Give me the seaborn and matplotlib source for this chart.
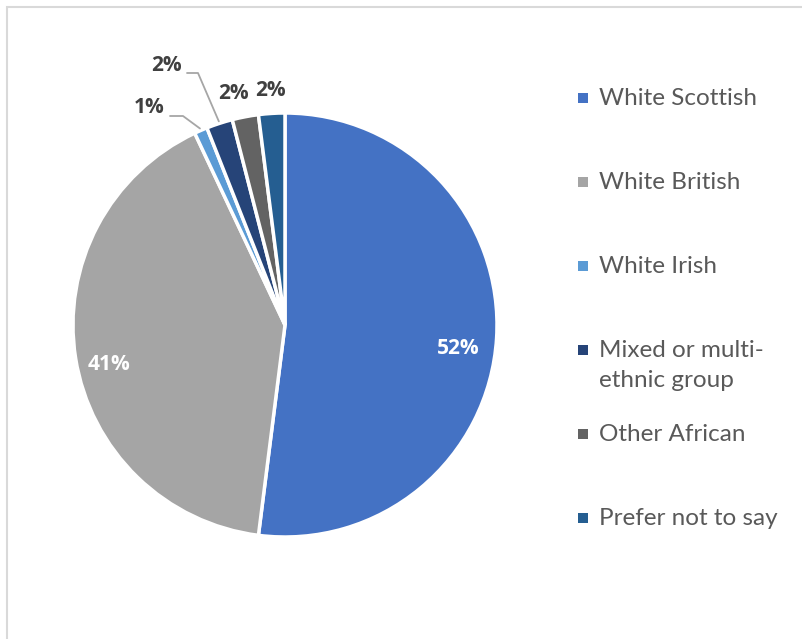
import matplotlib
matplotlib.use("Agg")
import matplotlib.pyplot as plt
import seaborn as sns
import numpy as np

sns.set_theme(style="white")
plt.rcParams["font.family"] = ["Lato", "DejaVu Sans"]

# Ethnicity breakdown (percent of respondents)
categories = ["White Scottish", "White British", "White Irish",
              "Mixed or multi-\nethnic group", "Other African", "Prefer not to say"]
shares = [52, 41, 1, 2, 2, 2]
colors = ["#4472C4", "#A5A5A5", "#5B9BD5", "#264478", "#636363", "#255E91"]

W, H = 803, 639
fig = plt.figure(figsize=(W / 100, H / 100), dpi=100)
fig.patch.set_facecolor("white")

# Chart-area border (top and left edges visible)
fig.add_artist(plt.Rectangle((7 / W, -0.1), 1.2, (H - 7) / H + 0.1, transform=fig.transFigure,
                             fill=False, edgecolor="#D9D9D9", linewidth=1.5))

cx, cy, r = 285, H - 325, 212
ax = fig.add_axes([(cx - r) / W, (cy - r) / H, 2 * r / W, 2 * r / H])
wedges, _ = ax.pie(shares, colors=colors, startangle=90, counterclock=False, radius=1,
                   wedgeprops=dict(edgecolor="white", linewidth=2.5))
ax.set_xlim(-1, 1)
ax.set_ylim(-1, 1)
ax.set_aspect("equal")
ax.axis("off")

# Mid-angle of each wedge
mids = []
acc = 0.0
for s in shares:
    mids.append(np.deg2rad(90 - 360 * (acc + s / 2) / 100))
    acc += s

label_kw = dict(ha="center", va="center", fontweight="bold", fontsize=15,
                family=["Open Sans", "DejaVu Sans"])

# Large slices: labels inside
ax.text(0.82 * np.cos(mids[0]), 0.82 * np.sin(mids[0]) - 0.06, f"{shares[0]}%",
        color="white", **label_kw)
ax.text(0.83 * np.cos(mids[1]) - 0.01, 0.83 * np.sin(mids[1]) - 0.055, f"{shares[1]}%",
        color="white", **label_kw)

dark = "#404040"
line_c = "#A6A6A6"

def to_ax(px, py):
    return ((px - cx) / r, ((H - py) - cy) / r)

# Small slices with leader lines
for i, (lab, p1, p2) in {
    2: ((149, 107), (170, 116), (183, 116)),
    3: ((166, 65), (187, 73), (198, 73)),
}.items():
    ax.text(*to_ax(*lab), f"{shares[i]}%", color=dark, **label_kw)
    edge = (1.01 * np.cos(mids[i]), 1.01 * np.sin(mids[i]))
    a, b = to_ax(*p1), to_ax(*p2)
    ax.plot([a[0], b[0], edge[0]], [a[1], b[1], edge[1]], color=line_c, lw=1.3,
            clip_on=False)

for i in (4, 5):
    rr = 1.12
    ax.text(rr * np.cos(mids[i]) - (0.035 if i == 4 else 0.0), rr * np.sin(mids[i]) - 0.01,
            f"{shares[i]}%", color=dark, **label_kw)

# Legend
y0, step = 98, 84
for i, (lab, c) in enumerate(zip(categories, colors)):
    y = y0 + step * i
    fig.add_artist(plt.Rectangle((578 / W, (H - y - 5) / H), 10 / W, 10 / H,
                                 transform=fig.transFigure, facecolor=c, edgecolor="none"))
    fig.text(599 / W, (H - y + 10) / H, lab, ha="left", va="top", fontsize=17.5,
             color="#595959", linespacing=1.55, transform=fig.transFigure)

fig.savefig("out.png", dpi=100, facecolor="white")
